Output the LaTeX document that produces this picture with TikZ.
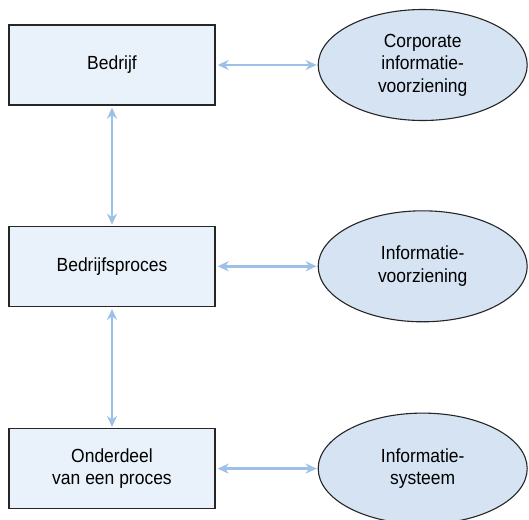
\documentclass[tikz,border=0pt]{standalone}
\usepackage{fontspec}
\setmainfont{Liberation Sans}[FakeStretch=0.92]
\usepackage{xcolor}
\usetikzlibrary{shapes.geometric, arrows.meta, positioning}

\definecolor{boxfill}{HTML}{E9F1FB}
\definecolor{ellfill}{HTML}{D5E3F3}
\definecolor{linkblue}{HTML}{9CC0E6}

\begin{document}
\begin{tikzpicture}
            % Block styles
            \tikzstyle{block} = [rectangle, draw=black!85, line width=1.3pt, fill=boxfill, align=center, minimum width=206pt, minimum height=80pt, font=\fontsize{19}{22.5}\selectfont]
            \tikzstyle{cloud} = [ellipse, draw=black!85, line width=1.1pt, fill=ellfill, align=center, minimum width=209pt, minimum height=111pt, inner sep=0pt, font=\fontsize{19}{22.5}\selectfont]
            \tikzstyle{link} = [linkblue, line width=2.4pt, {Stealth[length=11pt,width=10pt,inset=3.5pt]}-{Stealth[length=11pt,width=10pt,inset=3.5pt]}, shorten <=2pt, shorten >=1pt]
            \useasboundingbox (0,0) rectangle (529pt,-519pt);
            % Levels
            \node[block] (bedrijf) at (112pt,-65pt) {Bedrijf};
            \node[block, below=120pt of bedrijf] (proces) {Bedrijfsproces};
            \node[block, below=121pt of proces] (onderdeel) {Onderdeel\\van een proces};
            % Information side
            \node[cloud, right=102pt of bedrijf] (corporate) {Corporate\\informatie-\\voorziening};
            \node[cloud, right=102pt of proces] (voorziening) {Informatie-\\voorziening};
            \node[cloud, right=102pt of onderdeel] (systeem) {Informatie-\\systeem};
            % Connections
            \draw[link] (bedrijf) -- (corporate);
            \draw[link] (proces) -- (voorziening);
            \draw[link] (onderdeel) -- (systeem);
            \draw[link] (bedrijf) -- (proces);
            \draw[link] (proces) -- (onderdeel);
        \end{tikzpicture}
\end{document}
